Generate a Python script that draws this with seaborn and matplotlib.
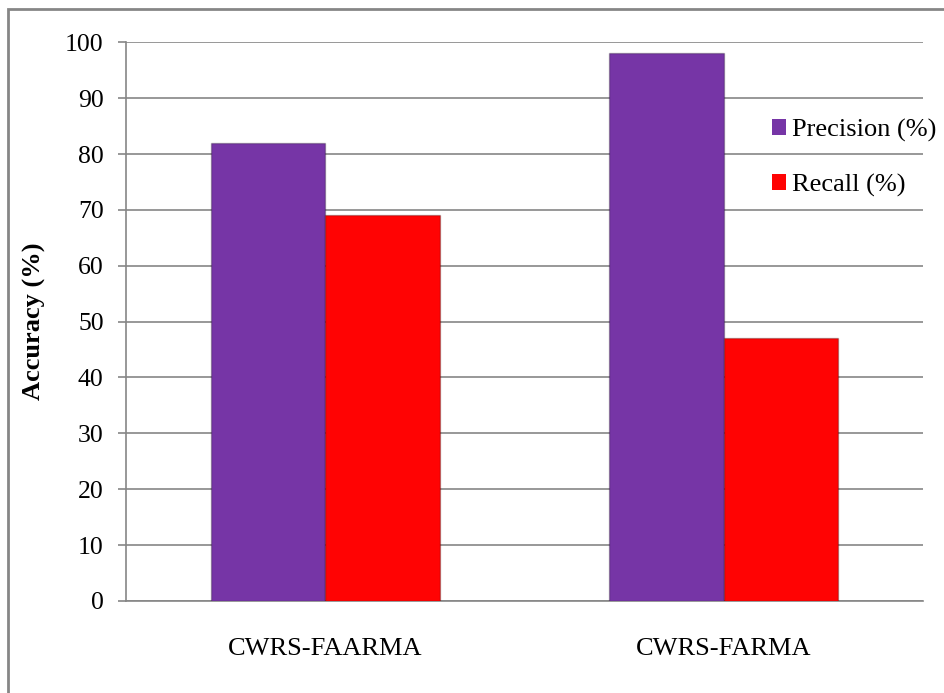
import matplotlib
matplotlib.use("Agg")
import matplotlib.pyplot as plt
import seaborn as sns
import pandas as pd
from matplotlib.patches import Rectangle

categories = ["CWRS-FAARMA", "CWRS-FARMA"]
series_names = ["Precision (%)", "Recall (%)"]
precision = [82, 98]
recall = [69, 47]
y_ticks = [0, 10, 20, 30, 40, 50, 60, 70, 80, 90, 100]
y_label = "Accuracy (%)"
colors = ["#7635A6", "#FF0303"]

df = pd.DataFrame({
    "category": categories * 2,
    "series": [series_names[0]] * len(categories) + [series_names[1]] * len(categories),
    "value": precision + recall,
})

sns.set_theme(style="white")
plt.rcParams["font.family"] = ["Liberation Serif", "DejaVu Serif"]

fig = plt.figure(figsize=(9.45, 6.93), dpi=100)
ax = fig.add_axes([0.1333, 0.1328, 0.8434, 0.8062])

sns.barplot(data=df, x="category", y="value", hue="series", palette=colors,
            width=0.575, saturation=1, ax=ax, edgecolor="none", linewidth=0,
            zorder=3)

for p in ax.patches:
    if p.get_height() > 0:
        p.set_edgecolor((0, 0, 0, 0.25))
        p.set_linewidth(1.0)

ax.set_ylim(0, 100)
ax.set_yticks(y_ticks)
ax.set_yticklabels([str(t) for t in y_ticks])
ax.set_xlim(-0.5, 1.5)
ax.yaxis.grid(True, color="#868686", linewidth=1.2, zorder=0)
ax.set_axisbelow(True)
for s in ["top", "right"]:
    ax.spines[s].set_visible(False)
for s in ["left", "bottom"]:
    ax.spines[s].set_color("#868686")
    ax.spines[s].set_linewidth(1.2)
ax.tick_params(axis="y", which="major", left=True, length=6, width=1.2,
               color="#868686", labelsize=18.5, pad=10, labelcolor="black")
ax.tick_params(axis="x", which="major", bottom=False, labelsize=19, pad=21,
               labelcolor="black")
ax.set_xlabel("")
ax.set_ylabel(y_label, fontsize=19, fontweight="bold", labelpad=14, color="black")

leg = ax.legend(loc="upper left", bbox_to_anchor=(0.797, 0.8825), frameon=False,
                fontsize=19, handlelength=0.55, handleheight=0.55,
                handletextpad=0.2, labelspacing=1.22, borderaxespad=0)
for t in leg.get_texts():
    t.set_color("black")

fig.patches.append(Rectangle((8 / 945, -0.1), 1.2, 1 - 9 / 693 + 0.1,
                             transform=fig.transFigure, fill=False,
                             edgecolor="#868686", linewidth=2, zorder=0))

fig.savefig("out.png", dpi=100)
